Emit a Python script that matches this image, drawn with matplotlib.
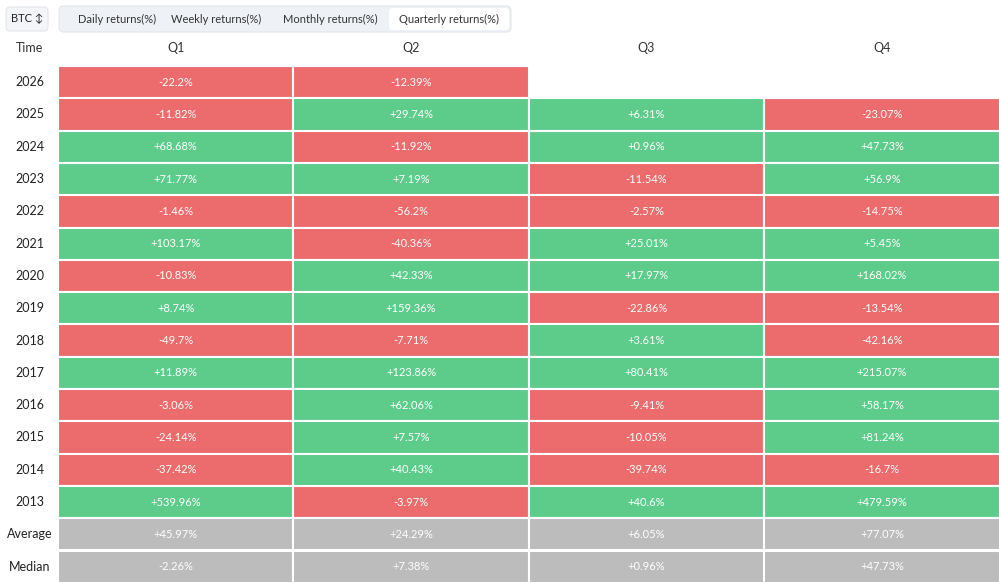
import matplotlib.pyplot as plt
from matplotlib.patches import Rectangle, FancyBboxPatch

years = ['2026', '2025', '2024', '2023', '2022', '2021', '2020', '2019', '2018',
         '2017', '2016', '2015', '2014', '2013']
q1 = [-22.2, -11.82, 68.68, 71.77, -1.46, 103.17, -10.83, 8.74, -49.7, 11.89, -3.06, -24.14, -37.42, 539.96]
q2 = [-12.39, 29.74, -11.92, 7.19, -56.2, -40.36, 42.33, 159.36, -7.71, 123.86, 62.06, 7.57, 40.43, -3.97]
q3 = [None, 6.31, 0.96, -11.54, -2.57, 25.01, 17.97, -22.86, 3.61, 80.41, -9.41, -10.05, -39.74, 40.6]
q4 = [None, -23.07, 47.73, 56.9, -14.75, 5.45, 168.02, -13.54, -42.16, 215.07, 58.17, 81.24, -16.7, 479.59]
average = [45.97, 24.29, 6.05, 77.07]
median = [-2.26, 7.38, 0.96, 47.73]
quarters = ['Q1', 'Q2', 'Q3', 'Q4']
tabs = ['Daily returns(%)', 'Weekly returns(%)', 'Monthly returns(%)', 'Quarterly returns(%)']

RED = '#ec6b6c'
GREEN = '#5dcc8b'
GREY = '#bcbcbc'

fig = plt.figure(figsize=(9.99, 5.83), dpi=100)
ax = fig.add_axes([0, 0, 1, 1])
ax.set_xlim(0, 999)
ax.set_ylim(583, 0)
ax.axis('off')
plt.rcParams['font.family'] = ['Lato', 'DejaVu Sans']

def fmt(v):
    s = ('%.2f' % v).rstrip('0').rstrip('.')
    return ('+' + s) if v > 0 else s

# top tab bar
ax.add_patch(FancyBboxPatch((6, 7), 42, 24, boxstyle='round,pad=0,rounding_size=4',
                            fc='#f3f5f8', ec='#e2e5ea', lw=0.8))
ax.text(27, 19, 'BTC \u2195', ha='center', va='center', fontsize=8, color='#222')
ax.add_patch(FancyBboxPatch((59, 6), 452, 26, boxstyle='round,pad=0,rounding_size=5',
                            fc='#eef1f5', ec='#e2e5ea', lw=0.8))
ax.add_patch(FancyBboxPatch((389, 8), 120, 22, boxstyle='round,pad=0,rounding_size=4',
                            fc='white', ec='none'))
for x, t in zip([117, 216, 330, 449], tabs):
    ax.text(x, 19, t, ha='center', va='center', fontsize=8, color='#333')

x0, cw = 58, 235.4
y0, rh = 66, 32.3
for j, q in enumerate(quarters):
    ax.text(x0 + cw * (j + 0.5), 48, q, ha='center', va='center', fontsize=9, color='#333')
ax.text(30, 48, 'Time', ha='center', va='center', fontsize=9, color='#333')

rows = [(y, [q1[i], q2[i], q3[i], q4[i]], None) for i, y in enumerate(years)]
rows.append(('Average', average, GREY))
rows.append(('Median', median, GREY))
for i, (label, vals, col) in enumerate(rows):
    yc = y0 + rh * (i + 0.5)
    ax.text(30, yc, label, ha='center', va='center', fontsize=9, color='#222')
    for j, v in enumerate(vals):
        if v is None:
            continue
        c = col or (GREEN if v > 0 else RED)
        ax.add_patch(Rectangle((x0 + cw * j, y0 + rh * i), cw, rh, fc=c, ec='white', lw=1.5))
        ax.text(x0 + cw * (j + 0.5), yc, fmt(v) + '%', ha='center', va='center',
                fontsize=8, color='white')

fig.savefig('out.png', dpi=100)
